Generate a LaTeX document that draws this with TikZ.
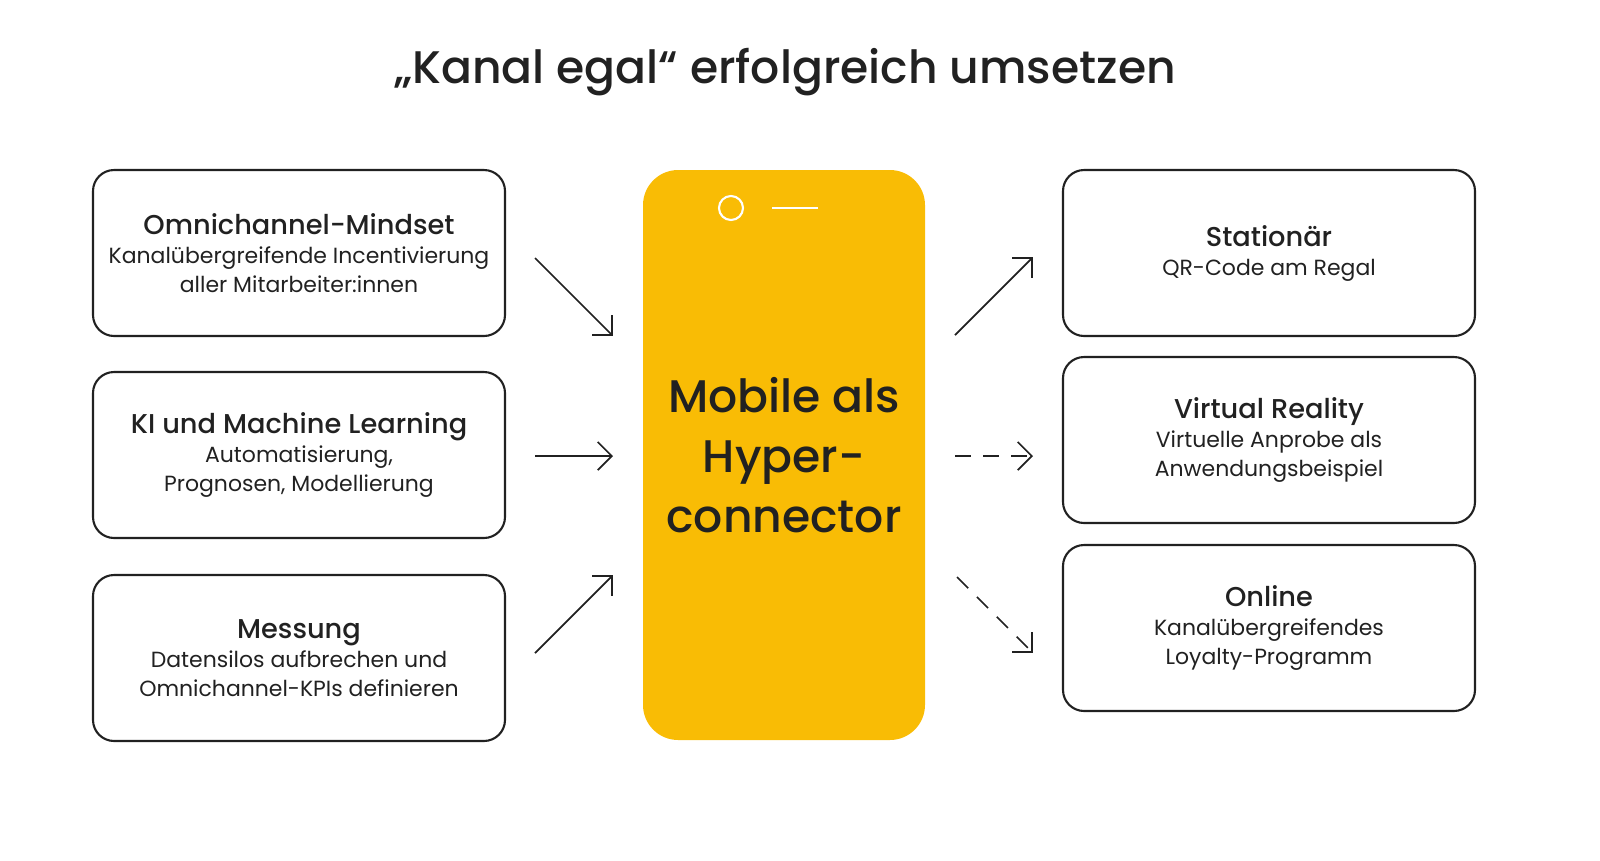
\documentclass[tikz,border=0pt]{standalone}
\usepackage{fontspec}
\setmainfont{Poppins}[BoldFont={Poppins Medium}]
\usetikzlibrary{arrows.meta,positioning,calc}
\definecolor{phoneyellow}{RGB}{249,188,5}
\definecolor{darktext}{RGB}{33,33,33}

\begin{document}
\begin{tikzpicture}[x=0.02cm,y=-0.02cm,
  infobox/.style={draw=darktext,line width=1.2pt,rounded corners=12pt,minimum width=412*0.02cm,minimum height=166*0.02cm,align=center,text=darktext,font=\fontsize{12.5}{16.5}\selectfont},
  arr/.style={-{Straight Barb[length=8pt,width=16pt]},line width=1pt,darktext},
  dasharr/.style={arr,dash pattern=on 9pt off 7pt}]
  \useasboundingbox (0,0) rectangle (1600,860);

  \node[text=darktext,font=\fontsize{26}{30}\selectfont\bfseries] (title) at (785,72) {„Kanal egal“ erfolgreich umsetzen};

  % left column
  \node[infobox] (mindset) at (299,253) {{\fontsize{15.5}{20}\selectfont\bfseries Omnichannel-Mindset}\\Kanalübergreifende Incentivierung\\aller Mitarbeiter:innen};
  \node[infobox] (ki) at (299,455) {{\fontsize{15.5}{20}\selectfont\bfseries KI und Machine Learning}\\Automatisierung,\\Prognosen, Modellierung};
  \node[infobox] (mess) at (299,658) {{\fontsize{15.5}{20}\selectfont\bfseries Messung}\\Datensilos aufbrechen und\\Omnichannel-KPIs definieren};

  % right column
  \node[infobox] (stat) at (1269,253) {{\fontsize{15.5}{20}\selectfont\bfseries Stationär}\\QR-Code am Regal};
  \node[infobox] (vr) at (1269,440) {{\fontsize{15.5}{20}\selectfont\bfseries Virtual Reality}\\Virtuelle Anprobe als\\Anwendungsbeispiel};
  \node[infobox] (online) at (1269,628) {{\fontsize{15.5}{20}\selectfont\bfseries Online}\\Kanalübergreifendes\\Loyalty-Programm};

  % phone
  \node[fill=phoneyellow,rounded corners=20pt,minimum width=282*0.02cm,minimum height=570*0.02cm,align=center,text=darktext,font=\fontsize{26}{34}\selectfont\bfseries] (phone) at (784,455) {Mobile als\\Hyper-\\connector};
  \draw[white,line width=1.2pt] (731,208) circle (12);
  \draw[white,line width=1.2pt] (772,208) -- (818,208);

  % arrows in
  \coordinate (a1) at (535,258); \coordinate (b1) at (613,336);
  \coordinate (a2) at (535,456); \coordinate (b2) at (613,456);
  \coordinate (a3) at (535,653); \coordinate (b3) at (613,575);
  \draw[arr] (a1) -- (b1);
  \draw[arr] (a2) -- (b2);
  \draw[arr] (a3) -- (b3);

  % arrows out
  \coordinate (c1) at (955,335); \coordinate (d1) at (1033,257);
  \coordinate (c2) at (955,456); \coordinate (d2) at (1033,456);
  \coordinate (c3) at (957,577); \coordinate (d3) at (1033,653);
  \draw[arr] (c1) -- (d1);
  \draw[dasharr] (c2) -- (d2);
  \draw[dasharr] (c3) -- (d3);
\end{tikzpicture}
\end{document}
